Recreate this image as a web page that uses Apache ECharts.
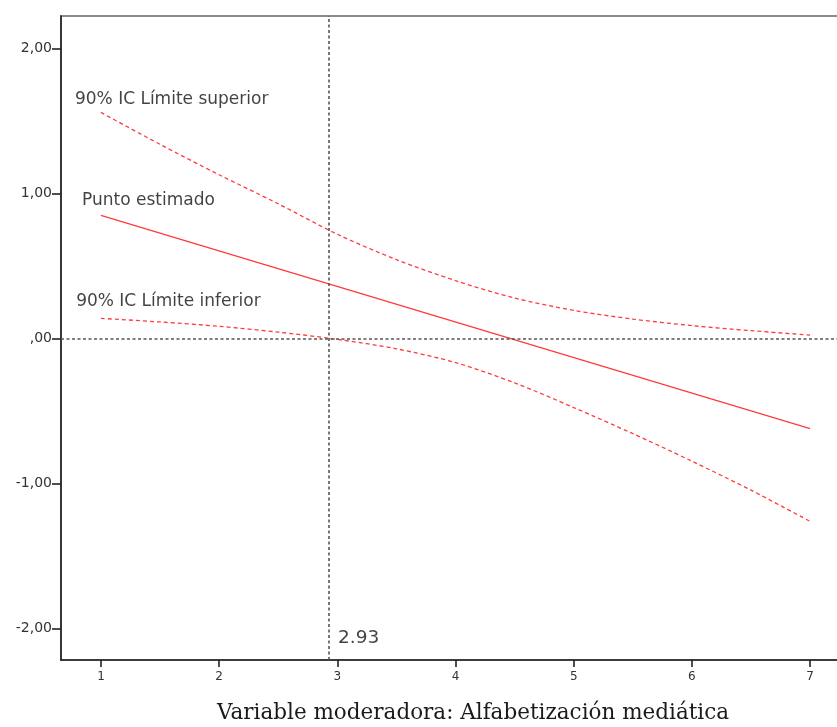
<!DOCTYPE html>
<html>
<head>
<meta charset="utf-8">
<script src="https://cdn.jsdelivr.net/npm/echarts@6/dist/echarts.min.js"></script>
<style>
html,body{margin:0;padding:0;background:#fff;overflow:hidden;}
#chart{width:837px;height:727px;}
</style>
</head>
<body>
<div id="chart"></div>
<script>
// ---- Data ----
const moderatorValues = [1, 1.5, 2, 2.5, 3, 3.5, 4, 4.5, 5, 5.5, 6, 6.5, 7];
const upperCI = [1.56, 1.34, 1.13, 0.93, 0.72, 0.545, 0.40, 0.28, 0.195, 0.135, 0.09, 0.055, 0.025];
const lowerCI = [0.14, 0.115, 0.085, 0.045, -0.005, -0.07, -0.165, -0.305, -0.475, -0.655, -0.845, -1.045, -1.26];
const estimateX = [1, 7];
const estimateY = [0.85, -0.62];
const jnPoint = 2.93;
const xTicks = [1, 2, 3, 4, 5, 6, 7];
const yTicks = [-2, -1, 0, 1, 2];
const yTickLabels = ['-2,00', '-1,00', ',00', '1,00', '2,00'];
const xTitle = 'Variable moderadora: Alfabetización mediática';
const curveLabels = ['90% IC Límite superior', 'Punto estimado', '90% IC Límite inferior'];
const curveLabelX = [0.78, 0.84, 0.79];
const curveLabelY = [1.646, 0.95, 0.253];

const red = '#ff3b3b';
const refColor = '#555555';

const zip = (xs, ys) => xs.map((x, i) => [x, ys[i]]);

const chart = echarts.init(document.getElementById('chart'), null, {renderer: 'canvas'});
chart.setOption({
  animation: false,
  backgroundColor: '#ffffff',
  grid: {
    left: 61, top: 16, width: 781, height: 644,
    outerBoundsMode: 'none', containLabel: false,
    show: true, borderColor: '#8c8c8c', borderWidth: 2, backgroundColor: 'transparent'
  },
  xAxis: {
    type: 'value', min: 0.662, max: 7.27,
    name: xTitle, nameLocation: 'middle', nameGap: 42,
    nameTextStyle: {fontFamily: 'DejaVu Serif', fontSize: 21.5, color: '#1a1a1a', padding: [0, 0, 0, 43]},
    axisLine: {show: true, onZero: false, lineStyle: {color: '#222', width: 1.6}},
    axisTick: {show: true, customValues: xTicks, length: 7, lineStyle: {color: '#222', width: 1.6}},
    axisLabel: {customValues: xTicks, margin: 11, fontFamily: 'DejaVu Sans', fontSize: 12, color: '#333'},
    splitLine: {show: false}
  },
  yAxis: {
    type: 'value', min: -2.216, max: 2.225,
    axisLine: {show: true, onZero: false, lineStyle: {color: '#222', width: 1.6}},
    axisTick: {show: true, customValues: yTicks, length: 9, lineStyle: {color: '#222', width: 1.6}},
    axisLabel: {
      customValues: yTicks, margin: 9, fontFamily: 'DejaVu Sans', fontSize: 14, color: '#333',
      formatter: v => { const i = yTicks.findIndex(t => Math.abs(t - v) < 1e-6); return i >= 0 ? yTickLabels[i] : ''; }
    },
    splitLine: {show: false}
  },
  series: [
    {
      type: 'line', name: 'Límite superior', data: zip(moderatorValues, upperCI),
      smooth: 0.3, showSymbol: false, lineStyle: {color: red, width: 1.3, type: [4, 3]}, z: 3
    },
    {
      type: 'line', name: 'Límite inferior', data: zip(moderatorValues, lowerCI),
      smooth: 0.3, showSymbol: false, lineStyle: {color: red, width: 1.3, type: [4, 3]}, z: 3
    },
    {
      type: 'line', name: 'Punto estimado', data: zip(estimateX, estimateY),
      showSymbol: false, lineStyle: {color: red, width: 1.3}, z: 3,
      markLine: {
        silent: true, symbol: ['none', 'none'], label: {show: false},
        lineStyle: {color: refColor, width: 1.6, type: [3, 2.5]},
        data: [{xAxis: jnPoint}, {yAxis: 0}]
      }
    },
    {
      type: 'scatter', symbolSize: 0, z: 5, silent: true,
      data: curveLabels.map((t, i) => ({value: [curveLabelX[i], curveLabelY[i]], name: t})),
      label: {show: true, position: 'right', distance: 0, formatter: p => p.name,
        fontFamily: 'DejaVu Sans', fontSize: 17, color: '#111'}
    },
    {
      type: 'scatter', symbolSize: 0, z: 5, silent: true,
      data: [{value: [jnPoint, -2.068], name: String(jnPoint)}],
      label: {show: true, position: 'right', distance: 9, formatter: p => p.name,
        fontFamily: 'DejaVu Sans', fontSize: 18.5, color: '#111'}
    }
  ]
});
</script>
</body>
</html>
